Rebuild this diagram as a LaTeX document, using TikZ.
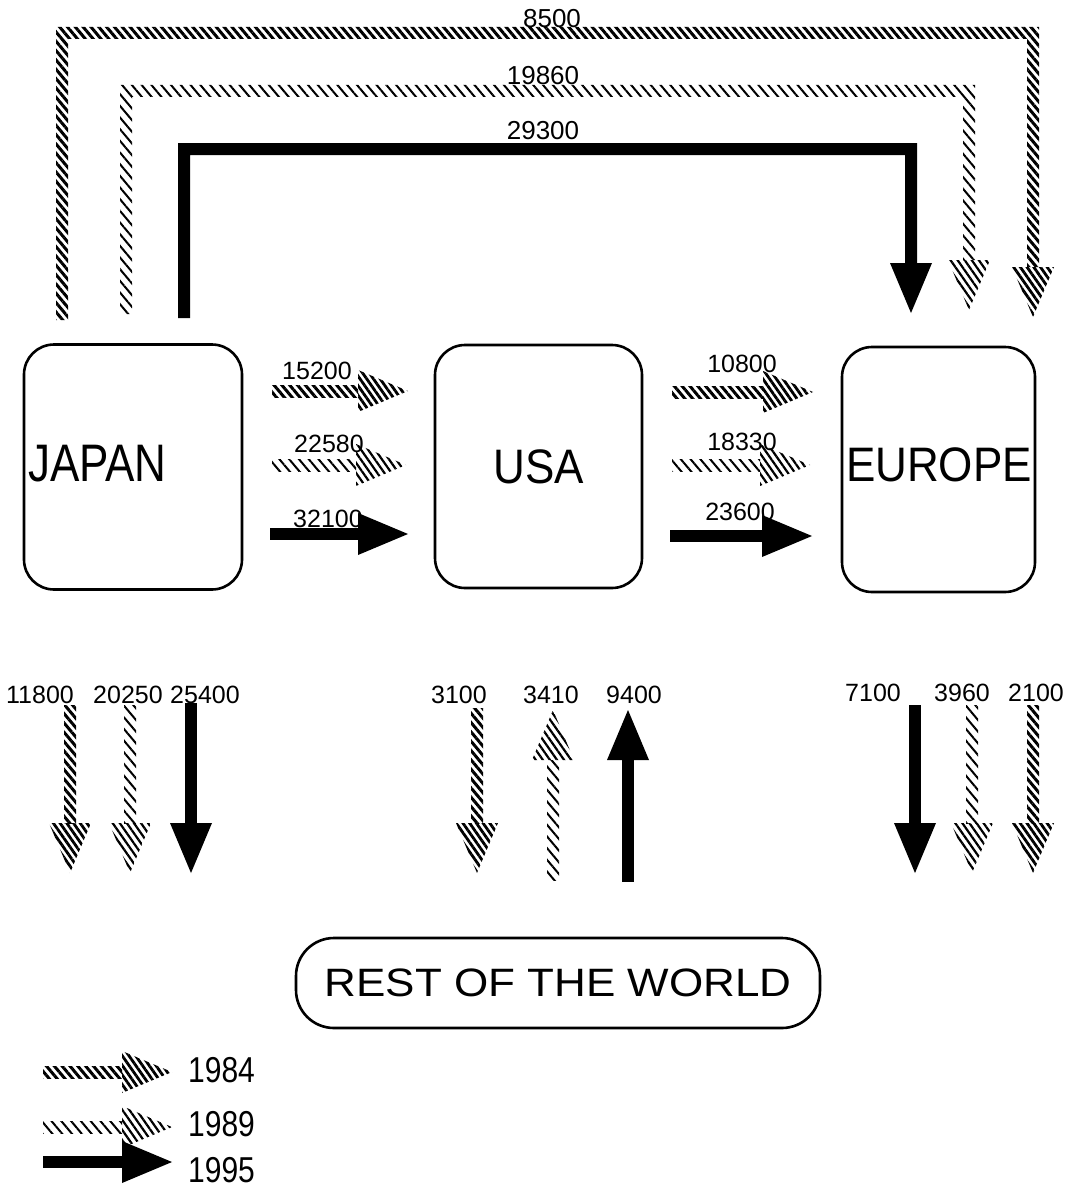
\documentclass[tikz,border=0pt]{standalone}
\usepackage{fontspec}
\setmainfont{Liberation Sans}
\usetikzlibrary{calc,patterns.meta}
\tikzset{
  box/.style={draw, line width=2.6pt, rounded corners=30pt, inner sep=4pt,
    font=\fontsize{44}{44}\selectfont},
  shaft84/.style={pattern={Lines[angle=-50,distance=6pt,line width=3pt]}},
  head84/.style={pattern={Lines[angle=-55,distance=5.5pt,line width=2.8pt]}},
  shaft89/.style={pattern={Lines[angle=-50,distance=7.5pt,line width=2pt]}},
  head89/.style={pattern={Lines[angle=-55,distance=5.8pt,line width=2.2pt]}},
  shaft95/.style={fill=black},
  head95/.style={fill=black},
  num/.style={font=\fontsize{25}{25}\selectfont, inner sep=0pt},
  topnum/.style={font=\fontsize{26}{26}\selectfont, inner sep=0pt},
  legtext/.style={font=\fontsize{30}{30}\selectfont, inner sep=0pt, anchor=west},
}
% straight flow arrow: #1 year, #2 start coordinate, #3 tip coordinate
\newcommand{\flowarrow}[3]{%
  \coordinate (hb) at ($(#3)!50pt!(#2)$);
  \path[shaft#1] ($(#2)!6pt!90:(#3)$) -- ($(#2)!6pt!-90:(#3)$)
     -- ($(hb)!6pt!90:(#2)$) -- ($(hb)!6pt!-90:(#2)$) -- cycle;
  \path[head#1] ($(hb)!21pt!90:(#3)$) -- (#3) -- ($(hb)!21pt!-90:(#3)$) -- cycle;
}
% loop flow over the top: #1 year, #2 x start, #3 y start, #4 y top, #5 x end, #6 y tip
\newcommand{\loopflow}[6]{%
  \path[shaft#1] ({#2-6},#3) -- ({#2-6},{#4-6}) -- ({#5+6},{#4-6}) -- ({#5+6},{#6-50})
     -- ({#5-6},{#6-50}) -- ({#5-6},{#4+6}) -- ({#2+6},{#4+6}) -- ({#2+6},#3) -- cycle;
  \path[head#1] ({#5-21},{#6-50}) -- (#5,#6) -- ({#5+21},{#6-50}) -- cycle;
}
\begin{document}
\begin{tikzpicture}[x=1pt,y=-1pt]
\useasboundingbox (0,0) rectangle (1080,1188);

% regions
\node[box, minimum width=218pt, minimum height=245pt, text width=210pt, align=left]
  (japan) at (133,467) {\raisebox{7pt}{\scalebox{1}[1.2]{JAPAN}}};
\node[box, minimum width=207pt, minimum height=243pt, text width=199pt, align=center]
  (usa) at (538.5,466.5) {\scalebox{1}[1.1]{USA}};
\node[box, minimum width=193pt, minimum height=245pt, text width=185pt, align=center]
  (europe) at (938.5,469.5) {\raisebox{10pt}{\scalebox{1}[1.1]{EUROPE}}};
\node[box, rounded corners=38pt, minimum width=524pt, minimum height=90pt]
  (rest) at (558,983) {\scalebox{1}[0.9]{REST OF THE WORLD}};

% Japan -> Europe (over the top)
\coordinate (je84s) at (62,320);   \coordinate (je84t) at (1033,317);
\coordinate (je89s) at (126,314);  \coordinate (je89t) at (969,310);
\coordinate (je95s) at (184,318);  \coordinate (je95t) at (911,313);
\loopflow{84}{62}{320}{33}{1033}{317}
\loopflow{89}{126}{314}{91}{969}{310}
\loopflow{95}{184}{318}{149}{911}{313}
\node[topnum] (l8500) at (552,19) {8500};
\node[topnum] (l19860) at (543,76) {19860};
\node[topnum] (l29300) at (543,131) {29300};

% Japan -> USA
\coordinate (ju84s) at (272,391); \coordinate (ju84t) at (408,391);
\coordinate (ju89s) at (272,465); \coordinate (ju89t) at (406,465);
\coordinate (ju95s) at (270,534); \coordinate (ju95t) at (408,534);
\flowarrow{84}{ju84s}{ju84t}
\flowarrow{89}{ju89s}{ju89t}
\flowarrow{95}{ju95s}{ju95t}
\node[num] (l15200) at (317,371) {15200};
\node[num] (l22580) at (329,444) {22580};
\node[num] (l32100) at (328,519) {32100};

% USA -> Europe
\coordinate (ue84s) at (672,392); \coordinate (ue84t) at (813,392);
\coordinate (ue89s) at (672,465); \coordinate (ue89t) at (810,465);
\coordinate (ue95s) at (670,536); \coordinate (ue95t) at (812,536);
\flowarrow{84}{ue84s}{ue84t}
\flowarrow{89}{ue89s}{ue89t}
\flowarrow{95}{ue95s}{ue95t}
\node[num] (l10800) at (742,364) {10800};
\node[num] (l18330) at (742,442) {18330};
\node[num] (l23600) at (740,512) {23600};

% flows with the rest of the world
\coordinate (jr84s) at (70,705);   \coordinate (jr84t) at (70,873);
\coordinate (jr89s) at (130,705);  \coordinate (jr89t) at (130,873);
\coordinate (jr95s) at (191,703);  \coordinate (jr95t) at (191,873);
\coordinate (ur84s) at (477,708);  \coordinate (ur84t) at (477,873);
\coordinate (ru89s) at (553,880);  \coordinate (ru89t) at (553,710);
\coordinate (ru95s) at (628,882);  \coordinate (ru95t) at (628,710);
\coordinate (er95s) at (915,705);  \coordinate (er95t) at (915,873);
\coordinate (er89s) at (972,705);  \coordinate (er89t) at (972,873);
\coordinate (er84s) at (1033,705); \coordinate (er84t) at (1033,873);
\flowarrow{84}{jr84s}{jr84t}
\flowarrow{89}{jr89s}{jr89t}
\flowarrow{95}{jr95s}{jr95t}
\flowarrow{84}{ur84s}{ur84t}
\flowarrow{89}{ru89s}{ru89t}
\flowarrow{95}{ru95s}{ru95t}
\flowarrow{95}{er95s}{er95t}
\flowarrow{89}{er89s}{er89t}
\flowarrow{84}{er84s}{er84t}
\node[num] (l11800) at (40,695) {11800};
\node[num] (l20250) at (128,695) {20250};
\node[num] (l25400) at (205,695) {25400};
\node[num] (l3100) at (459,695) {3100};
\node[num] (l3410) at (551,695) {3410};
\node[num] (l9400) at (634,695) {9400};
\node[num] (l7100) at (873,693) {7100};
\node[num] (l3960) at (962,693) {3960};
\node[num] (l2100) at (1036,693) {2100};

% legend
\coordinate (k84s) at (43,1072);  \coordinate (k84t) at (172,1072);
\coordinate (k89s) at (43,1127);  \coordinate (k89t) at (172,1127);
\coordinate (k95s) at (43,1162);  \coordinate (k95t) at (172,1162);
\flowarrow{84}{k84s}{k84t}
\flowarrow{89}{k89s}{k89t}
\flowarrow{95}{k95s}{k95t}
\node[legtext] (y1984) at (188,1070) {\scalebox{1}[1.2]{1984}};
\node[legtext] (y1989) at (188,1124) {\scalebox{1}[1.2]{1989}};
\node[legtext] (y1995) at (188,1170) {\scalebox{1}[1.2]{1995}};
\end{tikzpicture}
\end{document}
